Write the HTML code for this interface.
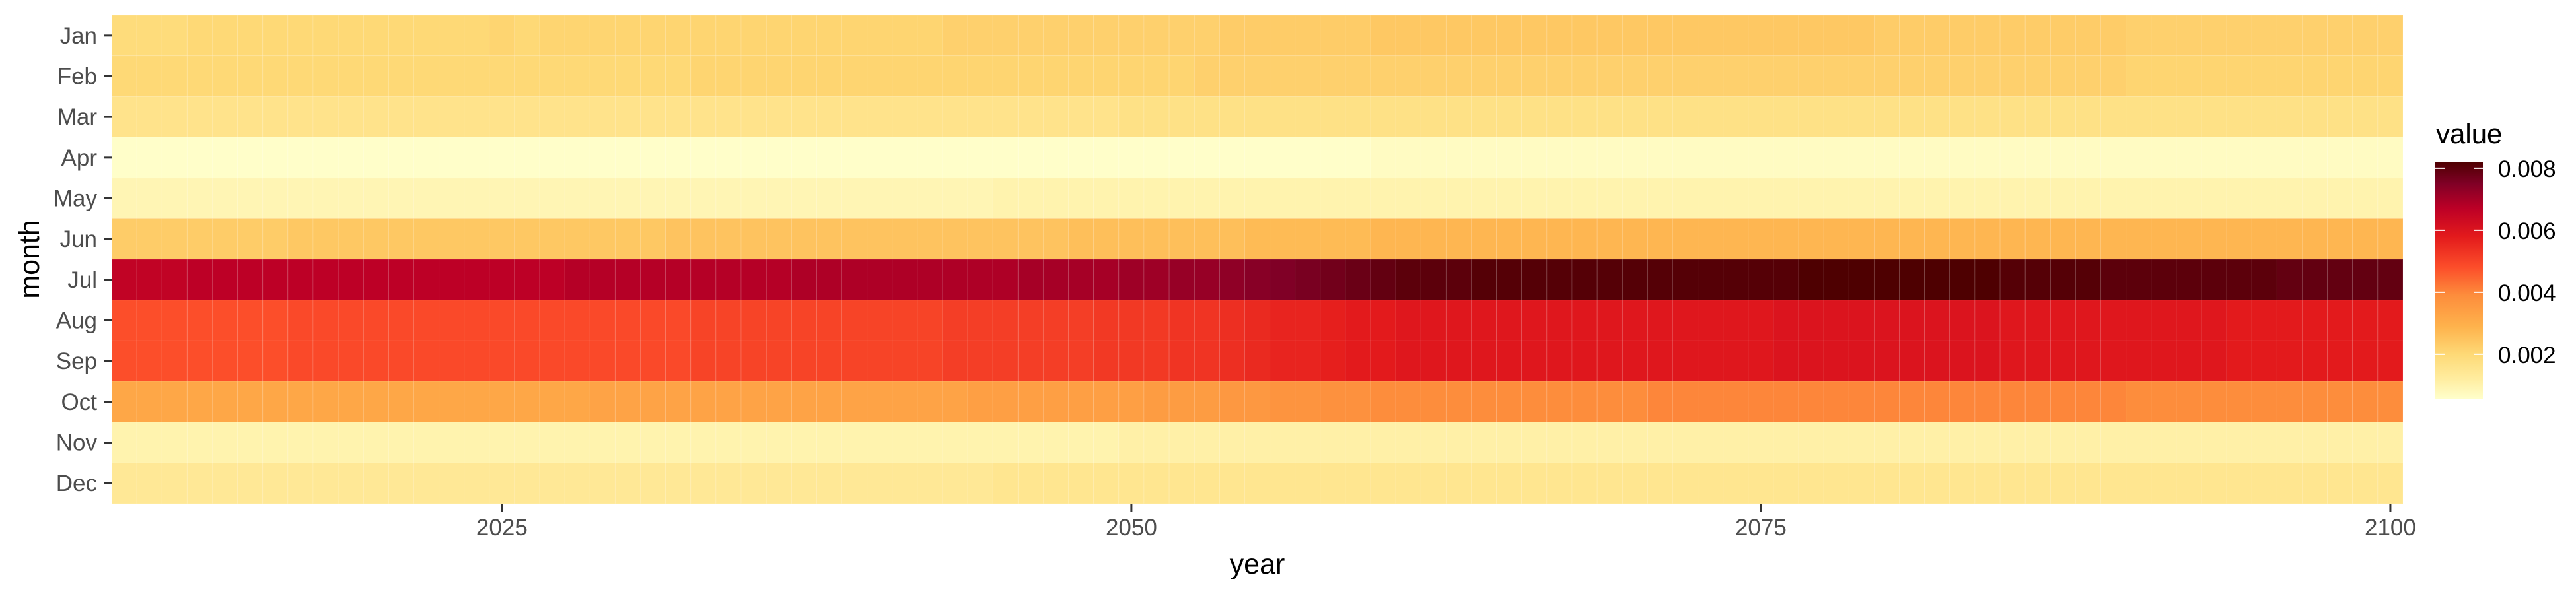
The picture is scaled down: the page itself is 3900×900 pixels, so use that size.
<!DOCTYPE html>
<html><head><meta charset="utf-8"><style>
html,body{margin:0;padding:0;background:#fff;}
svg{display:block;font-family:"Liberation Sans",sans-serif;}
</style></head><body>
<svg id="chart" width="3900" height="900" viewBox="0 0 3900 900" xmlns="http://www.w3.org/2000/svg">
<defs>
<linearGradient id="lg" x1="0" y1="1" x2="0" y2="0"></linearGradient>
</defs>
<g id="cells"></g>
<g id="axes"></g>
<g id="legend"></g>
</svg>
<script>
const months = ["Jan","Feb","Mar","Apr","May","Jun","Jul","Aug","Sep","Oct","Nov","Dec"];
const yearStart = 2010;
const yearEnd = 2100;
const xTicks = [2025, 2050, 2075, 2100];
const legendTicks = [0.002, 0.004, 0.006, 0.008];
const legendTickLabels = ["0.002","0.004","0.006","0.008"];
// values in units of 1e-4, years 2010..2100
const janVals = [19,19,19,20,20,20,20,20,20,20, 20,20,20,20,20,21,20,21,21,21, 21,21,21,21,21,21,21,21,21,21, 21,21,21,22,22,22,22,22,22,22, 22,22,22,22,23,23,23,23,23,23, 24,24,24,24,24,24,24,24,24,24, 24,24,24,24,24,24,24,24,24,24, 23,23,23,23,23,23,23,23,23,23, 22,22,22,22,22,22,22,22,22,22,22];
const febVals = [20,20,20,20,20,20,20,20,20,20, 20,20,20,20,20,20,20,20,20,20, 20,20,20,21,21,21,21,21,21,21, 21,21,21,21,21,21,21,21,21,21, 21,21,21,22,22,22,22,22,22,22, 22,22,22,22,22,22,22,22,22,22, 22,22,22,22,22,22,22,22,22,22, 22,22,22,22,22,22,22,22,22,22, 21,21,21,21,21,21,21,21,21,21,21];
const marVals = [16,16,16,16,16,16,16,16,16,16, 16,16,16,16,16,16,16,16,16,16, 16,16,16,16,16,16,16,16,16,16, 16,16,16,16,16,16,16,16,16,16, 17,17,17,17,17,17,17,17,17,17, 17,17,17,17,17,17,17,17,17,17, 17,17,17,17,17,17,17,17,17,17, 17,17,17,17,17,17,17,17,17,17, 17,17,17,17,17,17,17,17,17,17,17];
const aprVals = [6,6,6,6,6,6,6,6,6,6, 6,6,6,6,6,6,6,6,6,6, 6,6,6,6,6,6,6,6,6,6, 6,6,6,6,6,6,6,6,6,6, 6,6,6,6,6,6,6,6,6,6, 7,7,7,7,7,7,7,7,7,7, 7,7,7,7,7,7,7,7,7,7, 7,7,7,7,7,7,7,7,7,7, 7,7,7,7,7,7,7,7,7,7,7];
const mayVals = [9,9,9,9,9,9,9,9,9,9, 9,9,9,9,9,9,9,9,9,9, 9,9,9,9,9,9,9,9,9,9, 9,9,9,9,9,10,10,10,10,10, 10,10,10,10,10,10,10,10,10,10, 10,10,10,10,10,10,10,10,10,10, 10,10,10,10,10,10,10,10,10,10, 10,10,10,10,10,10,10,10,10,10, 10,10,10,10,10,10,10,10,10,10,10];
const junVals = [23,23,23,23,23,23,23,24,24,24, 24,24,24,24,24,24,24,24,24,24, 24,24,25,25,25,25,25,25,25,25, 25,25,25,25,25,25,25,25,26,26, 26,26,26,26,26,27,27,27,27,27, 28,28,28,28,28,28,28,28,28,28, 28,28,28,28,28,28,28,28,28,28, 28,28,28,28,28,28,28,28,28,28, 28,28,28,28,28,28,28,28,28,28,28];
const julVals = [66,66,66,67,67,67,67,67,67,67, 67,67,67,67,67,67,67,67,68,68, 68,68,68,68,68,68,68,69,69,69, 69,69,69,69,69,69,70,70,70,70, 71,71,72,72,73,74,75,76,77,78, 79,80,80,80,81,81,81,81,81,81, 81,81,81,81,81,81,81,82,82,82, 82,82,82,82,82,81,81,81,81,80, 80,80,80,80,80,80,79,79,79,79,79];
const augVals = [48,48,48,48,48,48,48,49,49,49, 49,49,49,49,49,49,49,49,49,49, 49,49,49,50,50,50,50,50,50,50, 50,50,50,51,51,51,51,51,51,52, 52,52,53,53,54,55,56,56,57,58, 58,59,59,59,59,59,59,59,59,59, 59,59,59,59,59,59,60,60,60,60, 60,60,60,60,60,59,59,59,59,59, 59,59,59,59,58,58,58,58,58,58,58];
const sepVals = [48,48,48,48,48,48,48,49,49,49, 49,49,49,49,49,49,49,49,49,49, 49,49,49,50,50,50,50,50,50,50, 50,50,50,51,51,51,51,51,51,52, 52,52,53,53,54,55,56,56,57,58, 58,59,59,59,59,59,59,59,59,59, 59,59,59,59,59,59,60,60,60,60, 60,60,60,60,60,59,59,59,59,59, 59,59,59,59,58,58,58,58,58,58,58];
const octVals = [32,32,32,32,32,32,32,32,32,32, 32,32,32,32,32,32,32,32,32,33, 33,33,33,33,33,33,33,33,33,33, 33,33,33,33,34,34,34,34,34,34, 34,35,35,35,36,36,37,37,38,38, 39,39,39,39,39,39,39,39,39,39, 39,40,40,40,40,40,40,40,40,40, 40,40,40,40,40,40,40,40,40,40, 39,39,39,39,39,39,39,39,39,39,39];
const novVals = [10,10,10,10,10,10,10,10,10,10, 10,10,10,10,10,10,10,10,10,10, 10,10,10,10,10,10,10,10,10,10, 10,10,10,10,10,10,10,10,10,10, 11,11,11,11,11,11,11,11,11,11, 11,11,11,11,11,11,11,11,11,11, 11,11,11,11,11,11,11,11,11,11, 11,11,11,11,11,11,11,11,11,11, 11,11,11,11,11,11,11,11,11,11,11];
const decVals = [14,14,14,14,14,14,14,14,14,14, 14,14,14,14,14,14,14,14,14,14, 14,14,14,14,14,14,14,14,14,14, 14,14,14,14,14,15,15,15,15,15, 15,15,15,15,15,15,15,15,15,15, 15,15,15,15,15,15,15,15,15,15, 15,15,15,15,15,15,15,15,15,15, 15,15,15,15,15,15,15,15,15,15, 15,15,15,15,15,15,15,15,15,15,15];
const seriesByMonth = [janVals,febVals,marVals,aprVals,mayVals,junVals,julVals,augVals,sepVals,octVals,novVals,decVals];

const NS="http://www.w3.org/2000/svg";
const PL=169, PR=3638, PT=23, PB=763;
const vMin=0.00055, vMax=0.00821;
const stops=[[0.00055,"#ffffcc"],[0.0012,"#ffeda0"],[0.002,"#fed976"],[0.0029,"#feb24c"],[0.0039,"#fd8d3c"],[0.0048,"#fc4e2a"],[0.0058,"#e31a1c"],[0.0067,"#bd0026"],[0.0075,"#800026"],[0.00821,"#4d0000"]];
function xScale(y){return PL+(y-(yearStart-0.5))/((yearEnd+0.5)-(yearStart-0.5))*(PR-PL);}
function yScale(i){return PT+i*(PB-PT)/12;}
const rowH=(PB-PT)/12;
function hex(c){return [parseInt(c.slice(1,3),16),parseInt(c.slice(3,5),16),parseInt(c.slice(5,7),16)];}
function color(v){
  if(v<=stops[0][0])return stops[0][1];
  for(let i=1;i<stops.length;i++){
    if(v<=stops[i][0]){
      const t=(v-stops[i-1][0])/(stops[i][0]-stops[i-1][0]);
      const a=hex(stops[i-1][1]),b=hex(stops[i][1]);
      return "rgb("+a.map((x,k)=>Math.round(x+(b[k]-x)*t)).join(",")+")";
    }
  }
  return stops[stops.length-1][1];
}
function mk(tag,attrs,parent){const e=document.createElementNS(NS,tag);for(const k in attrs)e.setAttribute(k,attrs[k]);parent.appendChild(e);return e;}

const cells=document.getElementById("cells");
seriesByMonth.forEach((arr,mi)=>{
  arr.forEach((v,yi)=>{
    const yr=yearStart+yi;
    const x0=xScale(yr-0.5), x1=xScale(yr+0.5);
    const r=mk("rect",{x:x0,y:yScale(mi),width:x1-x0,height:rowH,fill:color(v*1e-4),stroke:"rgba(255,255,255,0.14)","stroke-width":1},cells);
    
    
  });
});

const axes=document.getElementById("axes");
months.forEach((m,i)=>{
  const cy=yScale(i)+rowH/2;
  const t=mk("line",{x1:158,x2:169,y1:cy,y2:cy,stroke:"#333",  "stroke-width":3},axes);
  
  
  const l=mk("text",{x:147,y:cy+12,"text-anchor":"end","font-size":35,fill:"#4d4d4d"},axes);
  l.textContent=m;
  
  
});
xTicks.forEach(v=>{
  const x=xScale(v);
  const t=mk("line",{x1:x,x2:x,y1:763,y2:775,stroke:"#333","stroke-width":3},axes);
  
  
  const l=mk("text",{x:x,y:811,"text-anchor":"middle","font-size":35,fill:"#4d4d4d"},axes);
  l.textContent=String(v);
  
  
});
const xt=mk("text",{x:(PL+PR)/2,y:869,"text-anchor":"middle","font-size":43,fill:"#000"},axes);
xt.textContent="year";


const yt=mk("text",{x:0,y:0,transform:"translate(59,"+((PT+PB)/2)+") rotate(-90)","text-anchor":"middle","font-size":43,fill:"#000"},axes);
yt.textContent="month";



// legend
const lg=document.getElementById("lg");
stops.forEach(s=>{
  const st=mk("stop",{offset:((s[0]-vMin)/(vMax-vMin)),"stop-color":s[1]},lg);
  
  
});
const leg=document.getElementById("legend");
const LB=605, LT=245, LX=3687, LW=72;
function lScale(v){return LB-(v-vMin)/(vMax-vMin)*(LB-LT);}
const title=mk("text",{x:3688,y:217,"font-size":42,fill:"#000"},leg);
title.textContent="value";


const bar=mk("rect",{x:LX,y:LT,width:LW,height:LB-LT,fill:"url(#lg)"},leg);


legendTicks.forEach((v,i)=>{
  const y=lScale(v);
  const a=mk("line",{x1:LX,x2:LX+14,y1:y,y2:y,stroke:"#fff","stroke-width":2},leg);
  
  
  const b=mk("line",{x1:LX+LW-14,x2:LX+LW,y1:y,y2:y,stroke:"#fff","stroke-width":2},leg);
  
  
  const l=mk("text",{x:3782,y:y+13,"font-size":35,fill:"#000"},leg);
  l.textContent=legendTickLabels[i];
  
  
});
</script>
</body></html>
